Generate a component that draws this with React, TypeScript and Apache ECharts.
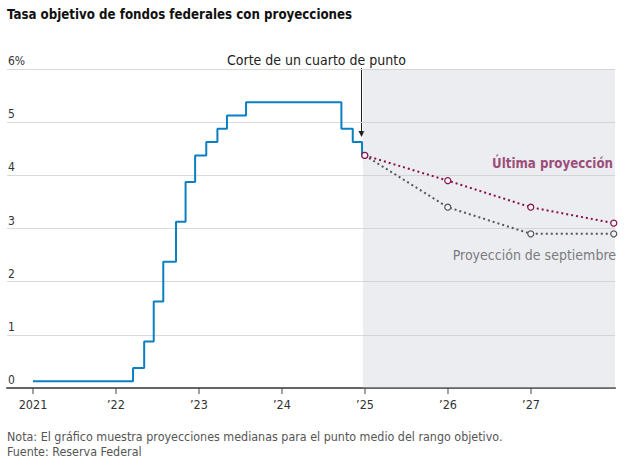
import React, { useEffect, useRef } from "react";
import * as echarts from "echarts";

// ---- Data ----
const RATE_DATES = [
  "2021-01-01", "2022-03-17", "2022-05-05", "2022-06-16", "2022-07-28",
  "2022-09-22", "2022-11-03", "2022-12-15", "2023-02-02", "2023-03-23",
  "2023-05-04", "2023-07-27", "2024-09-19", "2024-11-08", "2024-12-19",
  "2024-12-31",
];
const RATE_VALUES = [
  0.125, 0.375, 0.875, 1.625, 2.375, 3.125, 3.875, 4.375, 4.625, 4.875,
  5.125, 5.375, 4.875, 4.625, 4.375, 4.375,
];
const PROJ_DATES = ["2024-12-31", "2025-12-31", "2026-12-31", "2027-12-31"];
const LATEST_PROJ = [4.375, 3.9, 3.4, 3.1];
const SEPT_PROJ = [4.375, 3.4, 2.9, 2.9];
const XTICK_YEARS = [2021, 2022, 2023, 2024, 2025, 2026, 2027];
const XTICK_LABELS = ["2021", "\u201922", "\u201923", "\u201924", "\u201925", "\u201926", "\u201927"];
const SHADE_START = "2024-12-23";

const FONT = "'Liberation Sans Narrow', 'DejaVu Sans Condensed', Roboto, sans-serif";
const BLUE = "#0a80c3";
const MAGENTA = "#88104f";
const GRAY = "#555555";

function yr(s: string): number {
  const d = new Date(s + "T00:00:00Z");
  const y = d.getUTCFullYear();
  const a = Date.UTC(y, 0, 1);
  const b = Date.UTC(y + 1, 0, 1);
  return y + (d.getTime() - a) / (b - a);
}

const X_MIN = 2020.687;
const X_MAX = 2028.012;

export default function App() {
  const ref = useRef<HTMLDivElement>(null);
  useEffect(() => {
    document.body.style.margin = "0";
    if (!ref.current) return;
    const chart = echarts.init(ref.current, null, { renderer: "svg" });
    const option: any = {
      animation: false,
      backgroundColor: "#ffffff",
      textStyle: { fontFamily: FONT },
      grid: { left: 7, right: 13, top: 69, bottom: 79, containLabel: false },
      xAxis: {
        type: "value",
        min: X_MIN,
        max: X_MAX,
        axisLine: { show: true, lineStyle: { color: "#666", width: 2 } },
        axisTick: { show: false },
        axisLabel: { show: false },
        splitLine: { show: false },
      },
      yAxis: {
        type: "value",
        min: 0,
        max: 6,
        interval: 1,
        axisLine: { show: false },
        axisTick: { show: false },
        splitLine: { show: true, lineStyle: { color: "#dadada", width: 1 } },
        axisLabel: {
          inside: true,
          margin: 1,
          align: "left",
          verticalAlign: "bottom",
          padding: [0, 0, 2, 0],
          color: "#333",
          fontSize: 12,
          fontFamily: FONT,
          formatter: (v: number) => (v === 6 ? "6%" : String(v)),
        },
      },
      graphic: [
        {
          type: "text",
          left: 7,
          top: 8,
          style: {
            text: "Tasa objetivo de fondos federales con proyecciones",
            fill: "#111",
            font: `bold 13.2px ${FONT}`,
          },
        },
        {
          type: "text",
          x: 227,
          y: 60,
          style: {
            text: "Corte de un cuarto de punto",
            fill: "#222",
            font: `14px ${FONT}`,
            verticalAlign: "middle",
          },
        },
        {
          type: "line",
          shape: { x1: 361.5, y1: 68, x2: 361.5, y2: 132 },
          style: { stroke: "#222", lineWidth: 1 },
        },
        {
          type: "polygon",
          shape: { points: [[358.5, 131], [364.5, 131], [361.5, 137]] },
          style: { fill: "#222" },
        },
        {
          type: "text",
          x: 613,
          y: 163,
          style: {
            text: "\u00DAltima proyecci\u00F3n",
            fill: MAGENTA,
            font: `bold 13.2px ${FONT}`,
            align: "right",
            verticalAlign: "middle",
          },
        },
        {
          type: "text",
          x: 616,
          y: 255,
          style: {
            text: "Proyecci\u00F3n de septiembre",
            fill: "#555",
            font: `14px ${FONT}`,
            align: "right",
            verticalAlign: "middle",
          },
        },
        {
          type: "text",
          x: 7,
          y: 436,
          style: {
            text: "Nota: El gr\u00E1fico muestra proyecciones medianas para el punto medio del rango objetivo.",
            fill: "#555",
            font: `12.4px ${FONT}`,
            verticalAlign: "middle",
          },
        },
        {
          type: "text",
          x: 7,
          y: 451,
          style: {
            text: "Fuente: Reserva Federal",
            fill: "#555",
            font: `12.4px ${FONT}`,
            verticalAlign: "middle",
          },
        },
      ],
      series: [
        {
          type: "line",
          name: "shade",
          data: [],
          silent: true,
          markArea: {
            silent: true,
            itemStyle: { color: "rgba(196,200,208,0.33)" },
            data: [[{ xAxis: yr(SHADE_START), yAxis: 0 }, { xAxis: X_MAX, yAxis: 6 }]],
          },
          z: 1,
        },
        {
          type: "line",
          name: "Tasa",
          step: "end",
          data: RATE_DATES.map((d, i) => [yr(d), RATE_VALUES[i]]),
          showSymbol: false,
          lineStyle: { color: BLUE, width: 2 },
          z: 3,
        },
        {
          type: "line",
          name: "Proyección de septiembre",
          data: PROJ_DATES.map((d, i) => [yr(d), SEPT_PROJ[i]]),
          symbol: "circle",
          symbolSize: 6,
          itemStyle: { color: "#f4f4f5", borderColor: GRAY, borderWidth: 1.2 },
          lineStyle: { color: GRAY, width: 2, type: [2, 3] },
          z: 4,
        },
        {
          type: "line",
          name: "Última proyección",
          data: PROJ_DATES.map((d, i) => [yr(d), LATEST_PROJ[i]]),
          symbol: "circle",
          symbolSize: 6,
          itemStyle: { color: "#f4f4f5", borderColor: MAGENTA, borderWidth: 1.2 },
          lineStyle: { color: MAGENTA, width: 2, type: [2, 3] },
          z: 5,
        },
        {
          type: "custom",
          name: "xticks",
          silent: true,
          clip: false,
          data: XTICK_YEARS.map((y, i) => [y, 0, i]),
          renderItem: (params: any, api: any) => {
            const p = api.coord([api.value(0), 0]);
            const label = XTICK_LABELS[params.dataIndex];
            return {
              type: "group",
              children: [
                {
                  type: "line",
                  shape: { x1: p[0], y1: p[1], x2: p[0], y2: p[1] + 6 },
                  style: { stroke: "#444", lineWidth: 1 },
                },
                {
                  type: "text",
                  x: p[0],
                  y: p[1] + 16,
                  style: {
                    text: label,
                    align: "center",
                    verticalAlign: "middle",
                    fill: "#333",
                    font: `12.5px ${FONT}`,
                  },
                },
              ],
            };
          },
          z: 6,
        },
      ],
    };
    chart.setOption(option);
    return () => chart.dispose();
  }, []);
  return <div ref={ref} style={{ width: 628, height: 467 }} />;
}
